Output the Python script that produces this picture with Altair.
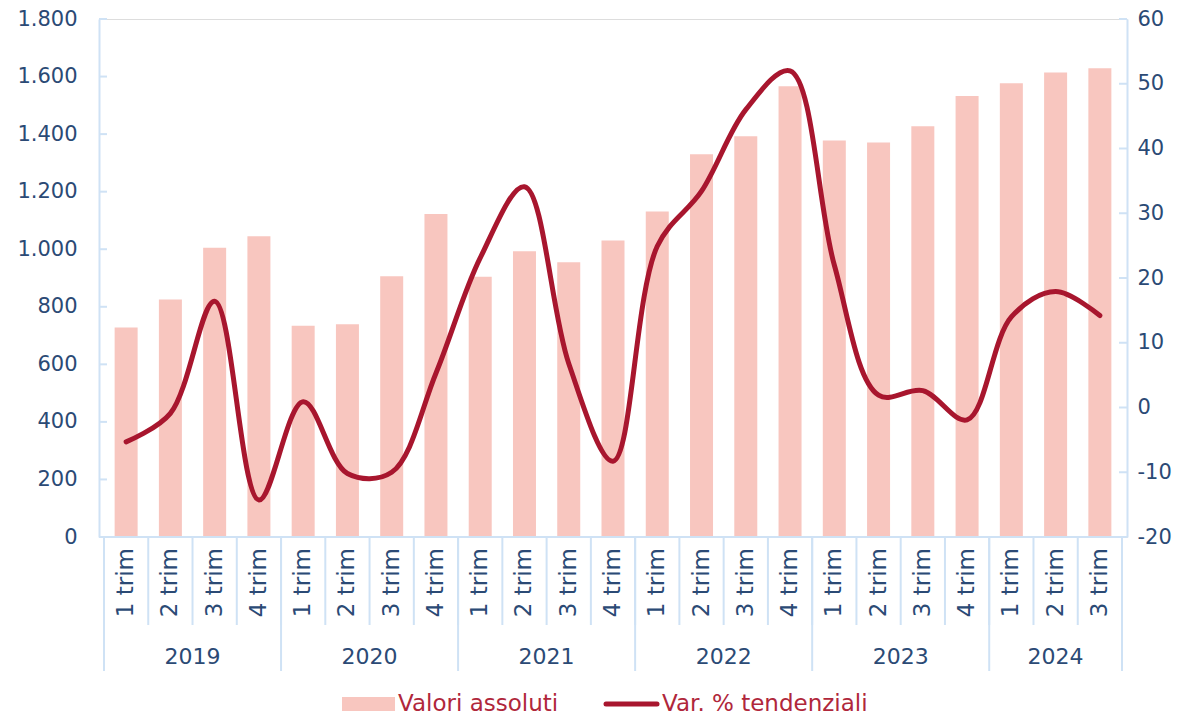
import altair as alt
import pandas as pd

# ---------------- data ----------------
years = [2019, 2020, 2021, 2022, 2023, 2024]
quarters_per_year = [4, 4, 4, 4, 4, 3]
quarter_labels = ["1 trim", "2 trim", "3 trim", "4 trim"]

abs_vals = [728, 825, 1005, 1045,
            734, 739, 906, 1122,
            904, 993, 955, 1030,
            1131, 1330, 1393, 1566,
            1378, 1371, 1427, 1532,
            1577, 1614, 1629]

var_vals = [-5.3, -0.9, 16.4, -14.3,
            0.9, -10.2, -10.0, 5.3,
            23.1, 34.1, 6.8, -8.3,
            24.9, 33.4, 46.0, 52.0,
            22.0, 1.9, 2.6, -1.9,
            14.0, 17.9, 14.2]

left_ticks = list(range(0, 1801, 200))
right_ticks = list(range(-20, 61, 10))
series_names = ["Valori assoluti", "Var. % tendenziali"]

# ---------------- styles ----------------
W, H = 1028, 518
FONT = "DejaVu Sans"
NAVY = "#2b4a75"
LIGHT = "#cfe2f5"
BAR = "#f8c6bf"
LINE = "#a8162e"
LEG_TXT = "#b0273b"

rows = []
i = 0
for y, n in zip(years, quarters_per_year):
    for q in range(n):
        rows.append({"pos": i + 0.5, "trim": quarter_labels[q], "year": str(y),
                     "abs": abs_vals[i], "var": var_vals[i]})
        i += 1
df = pd.DataFrame(rows)
N = len(df)

bounds_df = pd.DataFrame({"b": list(range(N + 1))})
yb, yc = [0], []
acc = 0
for n in quarters_per_year:
    yc.append(acc + n / 2)
    acc += n
    yb.append(acc)
year_bounds_df = pd.DataFrame({"b": yb})
year_df = pd.DataFrame({"c": yc, "year": [str(y) for y in years]})
left_ticks_df = pd.DataFrame({"abs": left_ticks})
right_ticks_df = pd.DataFrame({"var": right_ticks})
legend_df = pd.DataFrame({"name": series_names})
one_df = pd.DataFrame({"k": [0]})

xscale = alt.Scale(domain=[0, N], nice=False, zero=False)
lscale = alt.Scale(domain=[0, 1800], nice=False, zero=False)
rscale = alt.Scale(domain=[-20, 60], nice=False, zero=False)

left_axis = alt.Axis(orient="left", values=left_ticks, title=None, grid=False,
                     labelExpr="replace(format(datum.value, ',.0f'), ',', '.')",
                     labelFont=FONT, labelFontSize=21, labelColor=NAVY,
                     labelPadding=22, ticks=False, tickSize=0,
                     domainColor=LIGHT, domainWidth=2)
right_axis = alt.Axis(orient="right", values=right_ticks, title=None, grid=False,
                      labelExpr="datum.value < 0 ? '-' + abs(datum.value) : '' + datum.value",
                      labelFont=FONT, labelFontSize=21, labelColor=NAVY,
                      labelPadding=10, ticks=False, tickSize=0,
                      domainColor=LIGHT, domainWidth=2)

bars = alt.Chart(df).mark_bar(orient="vertical", size=23, color=BAR).encode(
    x=alt.X("pos:Q", scale=xscale, axis=None),
    y=alt.Y("abs:Q", scale=lscale, axis=left_axis),
)
lticks = alt.Chart(left_ticks_df).mark_rule(color=LIGHT, strokeWidth=2).encode(
    x=alt.value(0), x2=alt.value(8),
    y=alt.Y("abs:Q", scale=lscale, axis=left_axis),
)
left_layer = alt.layer(bars, lticks)

line = alt.Chart(df).mark_line(color=LINE, strokeWidth=5, interpolate="catmull-rom",
                               strokeCap="round", strokeJoin="round").encode(
    x=alt.X("pos:Q", scale=xscale, axis=None),
    y=alt.Y("var:Q", scale=rscale, axis=right_axis),
)
rticks = alt.Chart(right_ticks_df).mark_rule(color=LIGHT, strokeWidth=2).encode(
    x=alt.value(W - 8), x2=alt.value(W),
    y=alt.Y("var:Q", scale=rscale, axis=right_axis),
)
right_layer = alt.layer(rticks, line)

base_line = alt.Chart(one_df).mark_rule(color=LIGHT, strokeWidth=2).encode(
    x=alt.value(0), x2=alt.value(W), y=alt.value(H))

cat_sep = alt.Chart(bounds_df).mark_rule(color=LIGHT, strokeWidth=2).encode(
    x=alt.X("b:Q", scale=xscale, axis=None), y=alt.value(H), y2=alt.value(H + 88))
year_sep = alt.Chart(year_bounds_df).mark_rule(color=LIGHT, strokeWidth=2).encode(
    x=alt.X("b:Q", scale=xscale, axis=None), y=alt.value(H), y2=alt.value(H + 134))

q_text = alt.Chart(df).mark_text(angle=270, align="right", baseline="middle",
                                 font=FONT, fontSize=23, color=NAVY).encode(
    x=alt.X("pos:Q", scale=xscale, axis=None), y=alt.value(H + 11), text="trim:N")
y_text = alt.Chart(year_df).mark_text(align="center", baseline="middle",
                                      font=FONT, fontSize=22, color=NAVY).encode(
    x=alt.X("c:Q", scale=xscale, axis=None), y=alt.value(H + 120), text="year:N")

leg_y = 685
leg_rect = alt.Chart(one_df).mark_rect(color=BAR).encode(
    x=alt.value(243), x2=alt.value(296), y=alt.value(leg_y - 7), y2=alt.value(leg_y + 7))
leg_line = alt.Chart(one_df).mark_rule(color=LINE, strokeWidth=5, strokeCap="round").encode(
    x=alt.value(507), x2=alt.value(558), y=alt.value(leg_y))
leg_t1 = alt.Chart(legend_df).transform_filter(alt.datum.name == series_names[0]).mark_text(
    align="left", baseline="middle", font=FONT, fontSize=23, color=LEG_TXT).encode(
    x=alt.value(299), y=alt.value(leg_y), text="name:N")
leg_t2 = alt.Chart(legend_df).transform_filter(alt.datum.name == series_names[1]).mark_text(
    align="left", baseline="middle", font=FONT, fontSize=23, color=LEG_TXT).encode(
    x=alt.value(563), y=alt.value(leg_y), text="name:N")

chart = alt.layer(
    left_layer, right_layer, base_line, cat_sep, year_sep, q_text, y_text,
    leg_rect, leg_line, leg_t1, leg_t2,
).resolve_scale(y="independent").properties(
    width=W, height=H,
    autosize=alt.AutoSizeParams(type="none"),
    padding={"left": 91, "top": 11, "right": 55, "bottom": 180},
).configure_view(stroke=None).configure(background="white")

chart.save("out.html", embed_options={"renderer": "svg", "actions": False})
